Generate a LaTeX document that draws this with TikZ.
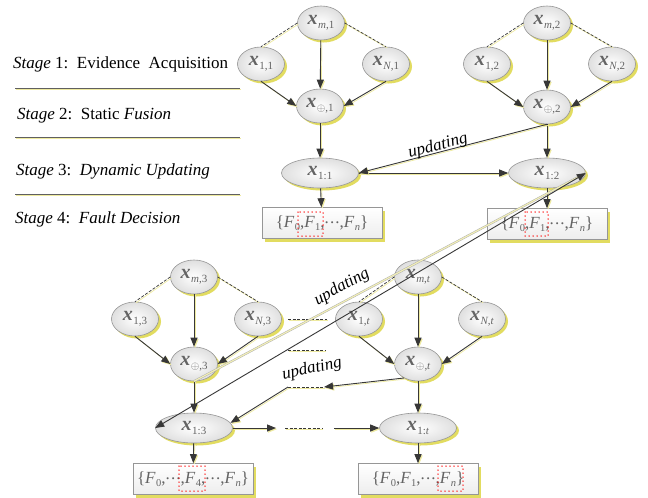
\documentclass[tikz,border=0pt]{standalone}
\usepackage{fontspec}
\setmainfont{Liberation Serif}
\usetikzlibrary{shapes.geometric,arrows.meta,shadows}
\definecolor{shy}{RGB}{226,220,96}
\definecolor{lc}{RGB}{55,55,55}
\definecolor{bc}{RGB}{150,150,150}
\definecolor{tc}{RGB}{100,100,100}
\newcommand{\xv}[1]{{\fontsize{20}{20}\selectfont\bfseries\itshape x}\kern0.5pt\raisebox{-4pt}{\fontsize{11}{11}\selectfont #1}}
\newcommand{\Fv}[1]{\textit{F}\kern0.3pt\raisebox{-3pt}{\fontsize{10.5}{10.5}\selectfont #1}}
\newcommand{\cds}{\raisebox{3.5pt}{.\kern1.2pt.\kern1.2pt.}}
\begin{document}
\begin{tikzpicture}[x=1pt,y=-1pt,
  nd/.style={ellipse, draw=bc, line width=0.6pt, shading=radial, inner color=white, outer color=gray!25,
    minimum width=47pt, minimum height=34pt, inner sep=0pt, text=tc,
    drop shadow={fill=shy, opacity=1, shadow xshift=2.5pt, shadow yshift=-2.5pt}},
  wide/.style={nd, minimum width=77pt, minimum height=30pt},
  bx/.style={rectangle, draw=bc, line width=0.6pt, top color=white, bottom color=gray!14,
    minimum width=120pt, minimum height=31pt, inner sep=0pt, text=tc, font=\fontsize{17}{17}\selectfont,
    drop shadow={fill=shy, opacity=1, shadow xshift=3pt, shadow yshift=-3pt}},
  lsh/.style={preaction={draw=shy!60, line width=0.7pt, transform canvas={shift={(1.1pt,-1.1pt)}}}},
  ar/.style={draw=lc, line width=0.9pt, -{Triangle[length=9pt,width=7pt]}, lsh},
  dl/.style={draw=lc, line width=0.7pt, dash pattern=on 3pt off 1.6pt, lsh},
  sepl/.style={draw=gray!75!black, line width=0.8pt, lsh},
  upd/.style={font=\fontsize{17}{17}\selectfont\itshape, inner sep=0pt},
  stg/.style={font=\fontsize{17}{17}\selectfont, inner sep=0pt, anchor=base west},
  rd/.style={draw=red, line width=1.5pt, dash pattern=on 0pt off 4pt, line cap=round}
]
\fill[white] (0,0) rectangle (648,498);
\useasboundingbox (0,0) rectangle (648,498);

% stage labels
\node[stg] (t1) at (13,68) {\textit{Stage} 1:\ \ Evidence\ \ Acquisition};
\node[stg] (t2) at (17,119) {\textit{Stage} 2:\ \ Static\ \textit{Fusion}};
\node[stg] (t3) at (16,175) {\textit{Stage} 3:\ \ \textit{Dynamic\ Updating}};
\node[stg] (t4) at (15,223) {\textit{Stage} 4:\ \ \textit{Fault\ Decision}};
\draw[sepl] (15,88) -- (240,88);
\draw[sepl] (15,137) -- (240,137);
\draw[sepl] (15,194) -- (240,194);

% group 1
\node[nd] (m1) at (321,23) {\xv{\textit{m},1}};
\node[nd] (a1) at (261,64) {\xv{1,1}};
\node[nd] (n1) at (386,64) {\xv{\textit{N},1}};
\node[nd] (p1) at (320,106) {\xv{$\oplus$,1}};
\node[wide] (s1) at (320,173) {\xv{1:1}};
\node[bx] (b1) at (322,223) {\{\Fv{0},\Fv{1},\cds,\Fv{\textit{n}}\}};
% group 2
\node[nd] (m2) at (547,23) {\xv{\textit{m},2}};
\node[nd] (a2) at (487,64) {\xv{1,2}};
\node[nd] (n2) at (612,64) {\xv{\textit{N},2}};
\node[nd] (p2) at (547,107) {\xv{$\oplus$,2}};
\node[wide] (s2) at (547,173) {\xv{1:2}};
\node[bx] (b2) at (547,224) {\{\Fv{0},\Fv{1},\cds,\Fv{\textit{n}}\}};
% group 3
\node[nd] (m3) at (194,277) {\xv{\textit{m},3}};
\node[nd] (a3) at (135,319) {\xv{1,3}};
\node[nd] (n3) at (258,319) {\xv{\textit{N},3}};
\node[nd] (p3) at (194,364) {\xv{$\oplus$,3}};
\node[wide] (s3) at (194,428) {\xv{1:3}};
\node[bx] (b3) at (193,479) {\{\Fv{0},\cds,\Fv{4},\cds,\Fv{\textit{n}}\}};
% group t
\node[nd] (mt) at (418,277) {\xv{\textit{m},\textit{t}}};
\node[nd] (at) at (359,319) {\xv{1,\textit{t}}};
\node[nd] (nt) at (482,319) {\xv{\textit{N},\textit{t}}};
\node[nd] (pt) at (418,364) {\xv{$\oplus$,\textit{t}}};
\node[wide] (st) at (418,428) {\xv{1:\textit{t}}};
\node[bx] (bt) at (418,479) {\{\Fv{0},\Fv{1},\cds,\Fv{\textit{n}}\}};

\foreach \g in {1,2,3,t}{
  \draw[dl] (m\g.west) -- (a\g.north);
  \draw[dl] (m\g.east) -- (n\g.north);
  \draw[ar] (m\g) -- (p\g);
  \draw[ar] (a\g.south) -- (p\g.west);
  \draw[ar] (n\g.south) -- (p\g.east);
  \draw[ar] (p\g) -- (s\g);
  \draw[ar] (s\g) -- (b\g);
}

% red dotted marks
\draw[rd] (298,212) rectangle (323,236);
\draw[rd] (525,212) rectangle (548,236);
\draw[rd] (179,466) rectangle (205,491);
\draw[rd] (438,466) rectangle (463,491);

% top updating
\draw[ar] (s1.east) -- (s2.west);
\draw[ar] (p2.south) -- (s1.east);
\node[upd, rotate=14] (u1) at (438,146) {updating};

% dashed gaps
\coordinate (e1) at (288,319); \coordinate (e2) at (327,319);
\coordinate (f1) at (288,350); \coordinate (f2) at (325,350);
\coordinate (g1) at (288,387); \coordinate (g2) at (324,387);
\coordinate (h1) at (285,428); \coordinate (h2) at (322,428);
\coordinate (k1) at (276,428); \coordinate (k2) at (334,428);
\draw[dl] (e1) -- (e2);
\draw[dl] (f1) -- (f2);
\draw[dl] (g1) -- (g2);
\draw[dl] (h1) -- (h2);
\draw[ar] (s3.east) -- (k1);
\draw[ar] (k2) -- (st.west);

% lower updating
\draw[ar] (pt.225) -- (g2);
\draw[ar] (g1) -- (s3.8);
\node[upd, rotate=12] (u3) at (312,369) {updating};

% long lines
\draw[gray!65, line width=0.45pt, double=shy!45, double distance=1.2pt] (p3.south) -- (s2.east);
\draw[draw=lc, line width=0.9pt, {Triangle[length=9pt,width=7pt]}-{Triangle[length=9pt,width=7pt]}] (s3.west) -- (s2.east);
\node[upd, rotate=29] (u2) at (342,287) {updating};
\end{tikzpicture}
\end{document}
